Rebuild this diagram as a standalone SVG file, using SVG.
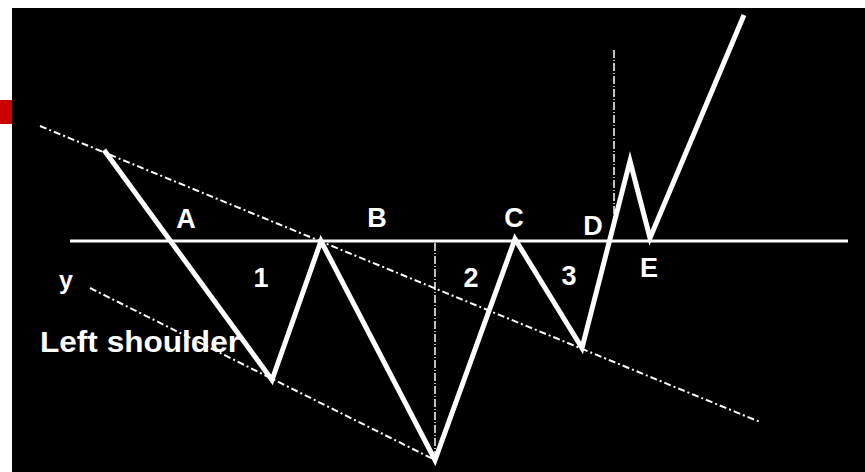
<svg xmlns="http://www.w3.org/2000/svg" width="865" height="472" viewBox="0 0 865 472">
<style>
.lbl{font-family:"Liberation Sans",Arial,sans-serif;font-weight:bold;fill:#fff;font-size:27px;text-anchor:middle}
.dash{fill:none;stroke:#fff;stroke-width:2;stroke-dasharray:7 3 2 3}
.dot{fill:none;stroke:#fff;stroke-width:1.5;stroke-dasharray:8 2 1 2}
.main{fill:none;stroke:#fff;stroke-width:5;stroke-linejoin:miter;stroke-miterlimit:10}
</style>
<rect x="0" y="0" width="865" height="472" fill="#fff"/>
<rect x="12" y="8" width="853" height="464" fill="#000"/>
<rect x="0" y="100" width="12" height="24" fill="#cc0000"/>
<g id="connectors">
<line x1="70" y1="241" x2="848" y2="241" stroke="#fff" stroke-width="3"/>
<line class="dash" x1="40" y1="126" x2="760" y2="422"/>
<line class="dash" x1="90" y1="288" x2="437" y2="461"/>
<line class="dot" x1="435" y1="243" x2="435" y2="455"/>
<line class="dot" x1="614" y1="50" x2="614" y2="225"/>
<polyline class="main" points="104,150 272,380 321,241 435,460 515,239 582,348 630,161 650,238 744,15"/>
</g>
<g id="labels">
<text class="lbl" x="186" y="228">A</text>
<text class="lbl" x="377" y="227">B</text>
<text class="lbl" x="514" y="227">C</text>
<text class="lbl" x="593" y="235">D</text>
<text class="lbl" x="649" y="277">E</text>
<text class="lbl" x="261" y="287">1</text>
<text class="lbl" x="471" y="287">2</text>
<text class="lbl" x="569" y="285">3</text>
<text class="lbl" x="66" y="289" style="font-size:25px">y</text>
<text class="lbl" x="40" y="352" textLength="200" lengthAdjust="spacingAndGlyphs" style="text-anchor:start;font-size:29px">Left shoulder</text>
</g>
</svg>
